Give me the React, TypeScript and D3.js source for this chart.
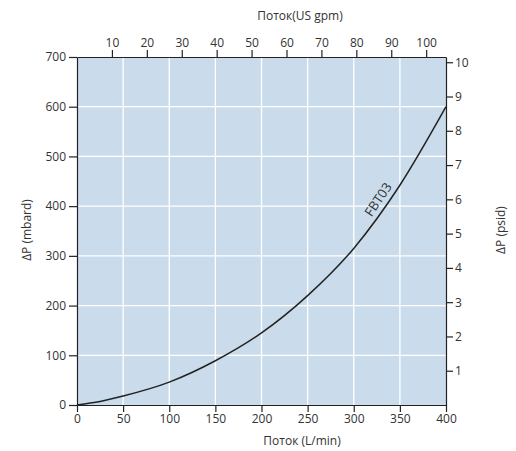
import React, { useEffect, useRef } from "react";
import * as d3 from "d3";

const flowLmin = [0, 25, 50, 100, 150, 200, 250, 300, 350, 400];
const dpMbar = [0, 7, 18, 46, 89, 145, 220, 315, 442, 600];
const xTicks = [0, 50, 100, 150, 200, 250, 300, 350, 400];
const yTicks = [0, 100, 200, 300, 400, 500, 600, 700];
const gpmTicks = [10, 20, 30, 40, 50, 60, 70, 80, 90, 100];
const psiTicks = [1, 2, 3, 4, 5, 6, 7, 8, 9, 10];
const curveLabel = "FBT03";
const LMIN_PER_GPM = 3.785;
const MBAR_PER_PSI = 68.948;

const W = 516, H = 451;
const L = 77, R = 446, T = 57, B = 405;
const FONT = "'Open Sans', sans-serif";
const TXT = "#333";

export default function App() {
  const ref = useRef<SVGSVGElement>(null);
  useEffect(() => {
    const svg = d3.select(ref.current);
    svg.selectAll("*").remove();
    const x = d3.scaleLinear().domain([0, 400]).range([L, R]);
    const y = d3.scaleLinear().domain([0, 700]).range([B, T]);
    const xg = d3.scaleLinear().domain([0, 400 / LMIN_PER_GPM]).range([L, R]);
    const yp = d3.scaleLinear().domain([0, 700 / MBAR_PER_PSI]).range([B, T]);

    svg.append("rect").attr("x", L).attr("y", T).attr("width", R - L).attr("height", B - T).attr("fill", "#cadcec");
    const g = svg.append("g");
    xTicks.slice(1, -1).forEach(v => {
      g.append("line").attr("x1", x(v)).attr("x2", x(v)).attr("y1", T).attr("y2", B).attr("stroke", "#fff").attr("stroke-width", 1.3);
    });
    yTicks.slice(1, -1).forEach(v => {
      g.append("line").attr("x1", L).attr("x2", R).attr("y1", y(v)).attr("y2", y(v)).attr("stroke", "#fff").attr("stroke-width", 1.3);
    });

    const style = (sel: any) => {
      sel.selectAll("path").attr("stroke", "#222").attr("stroke-width", 1.2);
      sel.selectAll("line").attr("stroke", "#222").attr("stroke-width", 1.2);
      sel.selectAll("text").attr("font-family", FONT).attr("font-size", 12).attr("fill", TXT);
    };

    const bottom = svg.append("g").attr("transform", `translate(0,${B})`)
      .call(d3.axisBottom(x).tickValues(xTicks).tickSize(7).tickSizeOuter(0).tickPadding(2));
    style(bottom);
    const left = svg.append("g").attr("transform", `translate(${L},0)`)
      .call(d3.axisLeft(y).tickValues(yTicks).tickSize(8).tickSizeOuter(0).tickPadding(3));
    style(left);
    const top = svg.append("g").attr("transform", `translate(0,${T})`)
      .call(d3.axisTop(xg).tickValues(gpmTicks).tickSize(7).tickSizeOuter(0).tickPadding(3));
    style(top);
    const right = svg.append("g").attr("transform", `translate(${R},0)`)
      .call(d3.axisRight(yp).tickValues(psiTicks).tickSize(7).tickSizeOuter(0).tickPadding(2));
    style(right);

    const line = d3.line<number>().x((_, i) => x(flowLmin[i])).y(d => y(d)).curve(d3.curveMonotoneX);
    svg.append("path").attr("d", line(dpMbar)).attr("fill", "none").attr("stroke", "#222").attr("stroke-width", 1.5);

    svg.append("text").attr("transform", `translate(382,202) rotate(-56)`).attr("text-anchor", "middle")
      .attr("font-family", FONT).attr("font-size", 13).attr("fill", TXT).text(curveLabel);

    const titles = [
      { t: "Поток(US gpm)", x: 300, y: 20, r: 0 },
      { t: "Поток (L/min)", x: 302, y: 445, r: 0 },
      { t: "ΔP (mbard)", x: 31, y: 230, r: -90 },
      { t: "ΔP (psid)", x: 505, y: 230, r: -90 },
    ];
    titles.forEach(d => {
      svg.append("text").attr("transform", `translate(${d.x},${d.y}) rotate(${d.r})`).attr("text-anchor", "middle")
        .attr("font-family", FONT).attr("font-size", 12).attr("fill", TXT).text(d.t);
    });
  }, []);
  return <svg ref={ref} width={W} height={H} style={{ position: "absolute", left: 0, top: 0, background: "#fff" }} />;
}
